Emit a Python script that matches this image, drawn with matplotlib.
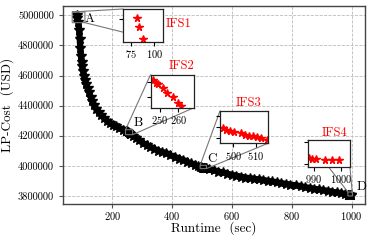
import numpy as np
import matplotlib
matplotlib.use("Agg")
import matplotlib.pyplot as plt
from matplotlib.ticker import FuncFormatter

plt.rcParams['font.family'] = 'cmr10'
plt.rcParams['mathtext.fontset'] = 'cm'
plt.rcParams['axes.formatter.use_mathtext'] = True

# ---- datos ----
runtime = [82, 84, 87.5, 90, 92, 94, 96, 98, 100, 103, 106, 110, 114, 118, 123,
           128, 134, 140, 147, 155, 164, 173, 182, 192, 202, 212, 223, 235,
           246.3, 247.6, 248.7, 251.5, 254.0, 257.3, 259.7, 261.5,
           270, 280, 291, 302, 315, 328, 341, 354, 367, 381, 395, 410, 423,
           436, 450, 463, 476, 487,
           495.3, 496.8, 498.5, 500.3, 503.3, 505.3, 507.0, 508.5, 510.3, 512.2, 515.0,
           525, 540, 555, 570, 585, 600, 615, 630, 645, 660, 675, 690, 705,
           720, 735, 750, 765, 780, 795, 815, 830, 845, 860, 875, 890, 905,
           920, 935, 950, 965, 978,
           988.3, 989.4, 990.6, 994.1, 996.8, 999.1]
cost = [5.002, 4.983, 4.957, 4.90, 4.84, 4.78, 4.73, 4.69, 4.66, 4.63, 4.60, 4.57,
        4.545, 4.515, 4.49, 4.46, 4.43, 4.405, 4.38, 4.355, 4.335, 4.318, 4.30,
        4.285, 4.272, 4.262, 4.25, 4.24,
        4.2341, 4.2318, 4.2301, 4.2269, 4.2219, 4.2176, 4.2120, 4.2087,
        4.20, 4.188, 4.17, 4.151, 4.138, 4.125, 4.112, 4.10, 4.092, 4.085, 4.07,
        4.058, 4.048, 4.04, 4.028, 4.016, 4.005, 3.998,
        3.992, 3.9905, 3.9898, 3.9889, 3.9887, 3.9871, 3.9866, 3.9866, 3.986, 3.9853, 3.9837,
        3.978, 3.97, 3.962, 3.956, 3.948, 3.94, 3.935, 3.928, 3.922, 3.918,
        3.914, 3.91, 3.906, 3.90, 3.896, 3.89, 3.885, 3.88, 3.876, 3.87,
        3.864, 3.858, 3.853, 3.848, 3.843, 3.838, 3.834, 3.828, 3.823, 3.818, 3.813,
        3.8082, 3.8078, 3.8078, 3.8063, 3.8063, 3.8063]

runtime = np.array(runtime)
cost = np.array(cost) * 1e6

# zonas ampliadas: etiqueta, letra, xlim, ylim, xticks, yticks
zoom_names = ["IFS1", "IFS2", "IFS3", "IFS4"]
zoom_letters = ["A", "B", "C", "D"]
zoom_xlim = [(66.8, 109.2), (244.9, 268.6), (494.1, 515.2), (987.7, 1003.3)]
zoom_ylim = [(4.951e6, 5.022e6), (4.207e6, 4.240e6), (3.9815e6, 4.0035e6), (3.800e6, 3.826e6)]
zoom_xticks = [[75, 100], [250, 260], [500, 510], [990, 1000]]
zoom_yticks = [[5.0e6], [4.2176e6, 4.2328e6], [3.985e6, 3.9925e6, 4.0e6], [3.8025e6, 3.8235e6]]

# ---- grafico ----
fig = plt.figure(figsize=(3.73, 2.4), dpi=100)
ax = fig.add_axes([0.169, 0.15, 0.8096, 0.825])
ax.plot(runtime, cost, '-', color='black', lw=4.5, marker='*', ms=7.5, zorder=3)

ax.set_xticks([200, 400, 600, 800, 1000])
ax.set_yticks([3.8e6, 4.0e6, 4.2e6, 4.4e6, 4.6e6, 4.8e6, 5.0e6])
ax.yaxis.set_major_formatter(FuncFormatter(lambda v, p: "%d" % round(v)))
ax.tick_params(labelsize=7.5, length=3, color='#555555')
ax.tick_params(axis='x', pad=1.5)
ax.grid(True, color='#bbbbbb', ls='--', lw=0.6)
for s in ax.spines.values():
    s.set_color('#444444')
    s.set_linewidth(1.0)
ax.set_xlabel("Runtime  (sec)", fontsize=9.5, labelpad=-1)
ax.set_ylabel("LP-Cost  (USD)", fontsize=9.5, labelpad=3)

# posiciones de los recuadros (fraccion de ejes)
ins_pos = [[0.199, 0.818, 0.132, 0.167], [0.290, 0.486, 0.143, 0.168],
           [0.520, 0.306, 0.158, 0.165], [0.810, 0.189, 0.140, 0.135]]
name_pos = [(0.341, 0.909, 'left'), (0.394, 0.697, 'center'),
            (0.613, 0.509, 'center'), (0.900, 0.357, 'center')]
letter_pos = [(0.088, 0.934), (0.249, 0.411), (0.492, 0.226), (0.989, 0.084)]

for i in range(4):
    axins = ax.inset_axes(ins_pos[i])
    x0, x1 = zoom_xlim[i]
    y0, y1 = zoom_ylim[i]
    m = (runtime >= x0) & (runtime <= x1) & (cost >= y0) & (cost <= y1)
    axins.plot(runtime[m], cost[m], '*', color='red', ms=5.5, ls='none')
    axins.set_xlim(x0, x1)
    axins.set_ylim(y0, y1)
    axins.set_xticks(zoom_xticks[i])
    axins.set_yticks(zoom_yticks[i])
    axins.set_yticklabels([])
    axins.tick_params(labelsize=7.5, length=3, pad=1.5)
    for s in axins.spines.values():
        s.set_color('#222222')
        s.set_linewidth(0.9)
    ax.indicate_inset_zoom(axins, edgecolor='#777777', lw=0.8, alpha=1)
    ax.text(name_pos[i][0], name_pos[i][1], zoom_names[i], color='red', fontsize=9,
            ha=name_pos[i][2], va='center', transform=ax.transAxes)
    ax.text(letter_pos[i][0], letter_pos[i][1], zoom_letters[i], fontsize=9.5,
            ha='center', va='center', transform=ax.transAxes)

fig.savefig("out.png", dpi=100)
